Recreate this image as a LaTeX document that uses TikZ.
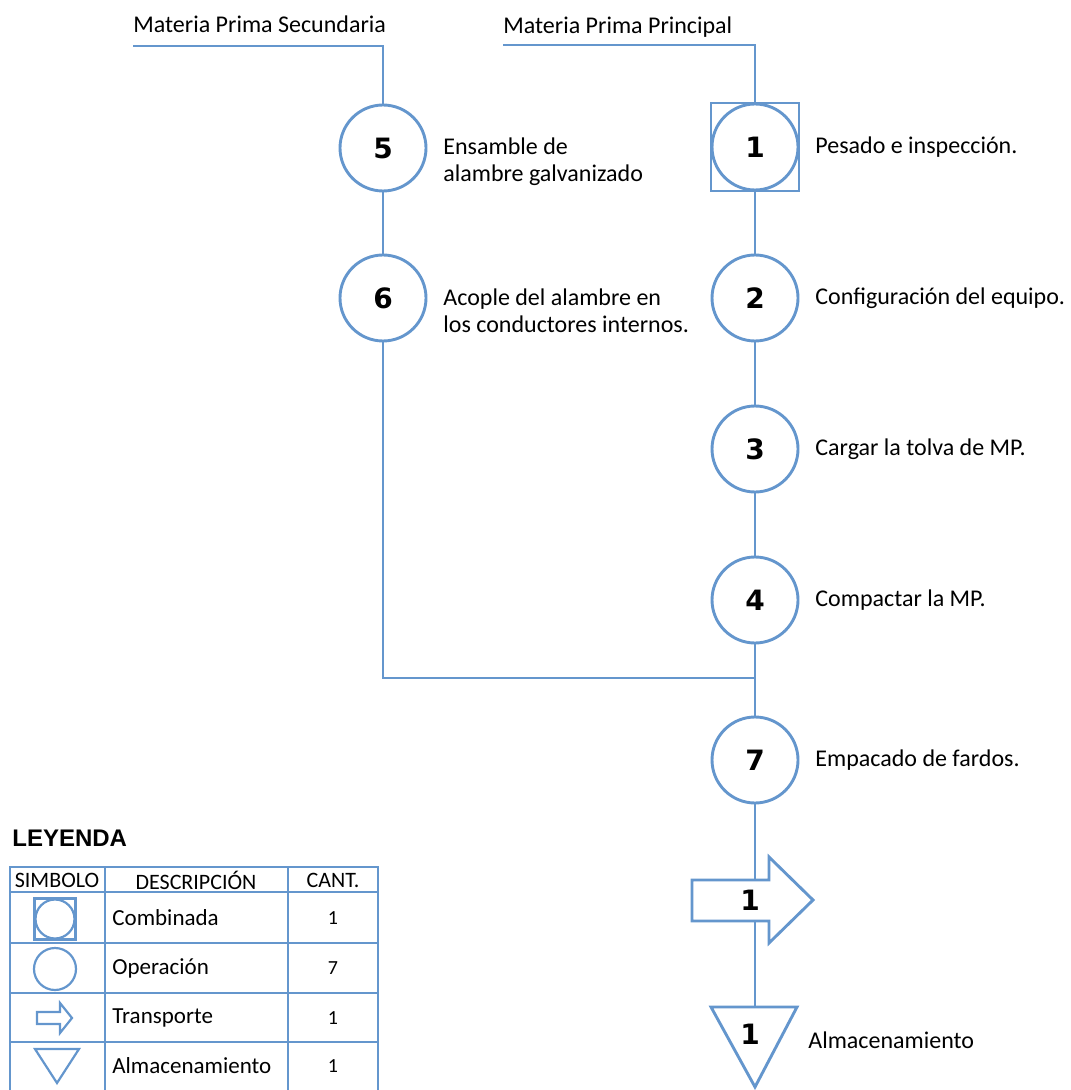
\documentclass[tikz,border=0pt]{standalone}
\usepackage{fontspec}
\setmainfont{Carlito}
\newfontfamily\arialfont{Liberation Sans}
\newfontfamily\digitfont{DejaVu Sans}
\usepackage{xcolor}
\usepackage{tikz}
\usetikzlibrary{calc}
\definecolor{flowblue}{RGB}{100,150,205}

\begin{document}
\begin{tikzpicture}[x=0.5pt, y=-0.5pt,
	flow/.style={draw=flowblue, line width=1.45pt},
	opnode/.style={circle, flow, fill=white, minimum size=43pt, inner sep=0pt, font=\digitfont\bfseries\fontsize{14}{14}\selectfont},
	numtext/.style={inner sep=0pt, font=\digitfont\bfseries\fontsize{14}{14}\selectfont},
	desc/.style={anchor=west, inner sep=0pt, align=left, font=\fontsize{12}{13.5}\selectfont},
	cell/.style={inner sep=0pt, font=\fontsize{11}{13}\selectfont},
	grid/.style={draw=flowblue, line width=1.1pt}]
			\useasboundingbox (0,0) rectangle (1070,1090);
			% operaciones
			\node[flow, fill=white, minimum size=44pt, inner sep=0pt] (sq1) at (755,147) {};
			\foreach \num/\yy in {1/147, 2/298, 3/449, 4/600, 7/760}
			{
				\node[opnode] (c\num) at (755,\yy) {\num};
			}
			\foreach \num/\yy in {5/148, 6/298}
			{
				\node[opnode] (c\num) at (383,\yy) {\num};
			}
			\node[anchor=base west, inner sep=0pt, font=\fontsize{12}{14}\selectfont] (lsec) at (133,33) {Materia Prima Secundaria};
			\node[anchor=base west, inner sep=0pt, font=\fontsize{12}{14}\selectfont] (lpri) at (503,34) {Materia Prima Principal};
			\coordinate (msec) at (133,46);
			\coordinate (mpri) at (503,45);
			\coordinate (join) at (755,678);
			\coordinate (tr1in) at (755,880);
			\coordinate (tr1out) at (755,921);
			\coordinate (al1in) at (755,1007);
			% transporte y almacenamiento
			\draw[flow, fill=white, line join=miter] (692,880) -- (769,880) -- (769,857) -- (813,900) -- (769,943) -- (769,921) -- (692,921) -- cycle;
			\node[numtext] (tr1) at (750,900) {1};
			\draw[flow, fill=white, line join=miter] (711,1007) -- (797,1007) -- (755,1087) -- cycle;
			\node[numtext] (al1) at (750,1034) {1};
			% conectores
			\draw[flow] (msec) -| (c5);
			\draw[flow] (mpri) -| (sq1);
			\draw[flow] (sq1) -- (c2);
			\draw[flow] (c2) -- (c3);
			\draw[flow] (c3) -- (c4);
			\draw[flow] (c4) -- (c7);
			\draw[flow] (c5) -- (c6);
			\draw[flow] (c6) |- (join);
			\draw[flow] (c7) -- (tr1in);
			\draw[flow] (tr1out) -- (al1in);
			% descripciones
			\node[desc] (d5) at (443,162) {Ensamble de\\alambre galvanizado};
			\node[desc] (d6) at (443,311) {Acople del alambre en\\los conductores internos.};
			\node[desc] (d1) at (815,147) {Pesado e inspección.};
			\node[desc] (d2) at (815,298) {Configuración del equipo.};
			\node[desc] (d3) at (815,449) {Cargar la tolva de MP.};
			\node[desc] (d4) at (815,600) {Compactar la MP.};
			\node[desc] (d7) at (815,760) {Empacado de fardos.};
			\node[desc] (dal) at (808,1040) {Almacenamiento};
			% leyenda
			\node[anchor=base west, inner sep=0pt, font=\arialfont\bfseries\fontsize{12}{14}\selectfont] (ley) at (12,846) {LEYENDA};
			\draw[grid] (10,1092) -- (10,867) -- (378,867) -- (378,1092);
			\foreach \yy in {892, 943, 993, 1042}
			{
				\draw[grid] (10,\yy) -- (378,\yy);
			}
			\foreach \xx in {105, 288}
			{
				\draw[grid] (\xx,867) -- (\xx,1092);
			}
			\node[cell] (hsim) at (57,880) {SIMBOLO};
			\node[cell] (hdes) at (196,880) {DESCRIPCIÓN};
			\node[cell] (hcan) at (333,880) {CANT.};
			\foreach \yy/\desc/\cant [count=\iRow] in {918/Combinada/1, 968/Operación/7, 1018/Transporte/1, 1066/Almacenamiento/1}
			{
				\node[cell, anchor=west, font=\fontsize{11.5}{13}\selectfont] (r\iRow) at (112,\yy) {\desc};
				\node[cell, font=\fontsize{10}{12}\selectfont] (n\iRow) at (333,\yy) {\cant};
			}
			\node[grid, fill=white, minimum size=20.5pt, inner sep=0pt] (lsq) at (55,919) {};
			\node[grid, circle, minimum size=19.5pt, inner sep=0pt] (lcomb) at (55,919) {};
			\node[grid, circle, minimum size=21pt, inner sep=0pt] (lop) at (55,969) {};
			\draw[grid, line join=miter] (37,1012) -- (60,1012) -- (60,1003) -- (72,1018) -- (60,1033) -- (60,1024) -- (37,1024) -- cycle;
			\draw[grid, line join=miter] (35,1049) -- (79,1049) -- (57,1083) -- cycle;
		\end{tikzpicture}
\end{document}
